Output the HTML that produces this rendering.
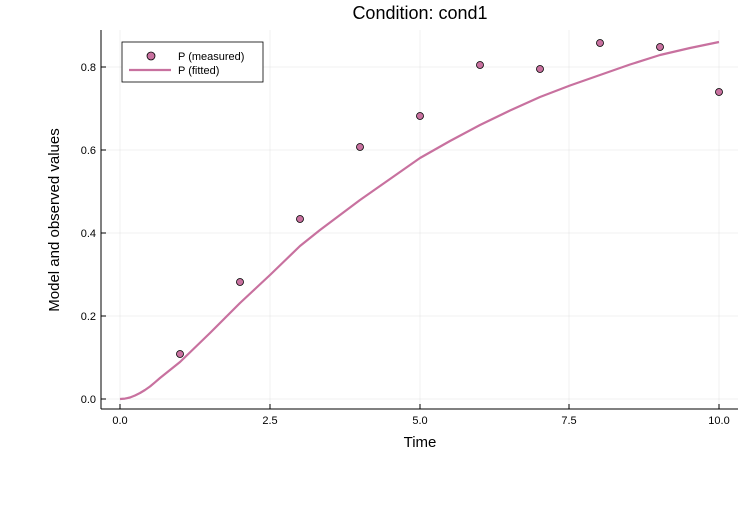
<!DOCTYPE html>
<html><head><style>body{margin:0;background:#fff}</style></head><body>
<svg width="750" height="500" xmlns="http://www.w3.org/2000/svg" font-family="Liberation Sans, DejaVu Sans, sans-serif">
<rect width="750" height="500" fill="#fff"/>
<g stroke="#000" stroke-opacity="0.05" stroke-width="1">
<line x1="120" y1="30" x2="120" y2="409"/><line x1="270" y1="30" x2="270" y2="409"/><line x1="420" y1="30" x2="420" y2="409"/><line x1="569" y1="30" x2="569" y2="409"/><line x1="719" y1="30" x2="719" y2="409"/>
<line x1="101" y1="399" x2="738" y2="399"/><line x1="101" y1="316" x2="738" y2="316"/><line x1="101" y1="233" x2="738" y2="233"/><line x1="101" y1="150" x2="738" y2="150"/><line x1="101" y1="67" x2="738" y2="67"/>
</g>
<g stroke="#000" stroke-width="1">
<line x1="101" y1="409" x2="738" y2="409"/><line x1="101" y1="30" x2="101" y2="409"/>
<line x1="120" y1="409" x2="120" y2="404"/><line x1="270" y1="409" x2="270" y2="404"/><line x1="420" y1="409" x2="420" y2="404"/><line x1="569" y1="409" x2="569" y2="404"/><line x1="719" y1="409" x2="719" y2="404"/>
<line x1="101" y1="399" x2="106" y2="399"/><line x1="101" y1="316" x2="106" y2="316"/><line x1="101" y1="233" x2="106" y2="233"/><line x1="101" y1="150" x2="106" y2="150"/><line x1="101" y1="67" x2="106" y2="67"/>
</g>
<g font-size="11" fill="#000" text-anchor="middle">
<text x="120" y="424">0.0</text><text x="270" y="424">2.5</text><text x="420" y="424">5.0</text><text x="569" y="424">7.5</text><text x="719" y="424">10.0</text>
</g>
<g font-size="11" fill="#000" text-anchor="end">
<text x="96" y="403">0.0</text><text x="96" y="320">0.2</text><text x="96" y="237">0.4</text><text x="96" y="154">0.6</text><text x="96" y="71">0.8</text>
</g>
<text x="420" y="447" font-size="15" text-anchor="middle">Time</text>
<text x="59" y="220" font-size="15" text-anchor="middle" transform="rotate(-90 59 220)">Model and observed values</text>
<text x="420" y="19" font-size="18" text-anchor="middle">Condition: cond1</text>
<polyline fill="none" stroke="#c8719f" stroke-width="2.2" stroke-linejoin="round" points="120,399 125,398.6 130,397.5 135,395.5 140,393 145,390 150,386.5 155,382.3 160,378 170,370 180,362 195,347.5 210,333 225,318 240,303 255,289 270,275 285,260.5 300,246 320,230 340,215 360,200 380,186 400,172 420,158 450,141 480,125 510,110.5 540,97 570,85.5 600,75 630,64.5 660,55 690,48 719,42"/>
<g fill="#c8719f" stroke="#000" stroke-width="0.8">
<circle cx="180" cy="354" r="3.5"/><circle cx="240" cy="282" r="3.5"/><circle cx="300" cy="219" r="3.5"/><circle cx="360" cy="147" r="3.5"/><circle cx="420" cy="116" r="3.5"/><circle cx="480" cy="65" r="3.5"/><circle cx="540" cy="69" r="3.5"/><circle cx="600" cy="43" r="3.5"/><circle cx="660" cy="47" r="3.5"/><circle cx="719" cy="92" r="3.5"/>
</g>
<rect x="122" y="42" width="141" height="40" fill="#fff" stroke="#000" stroke-width="0.8"/>
<circle cx="151" cy="56" r="4" fill="#c8719f" stroke="#000" stroke-width="0.8"/>
<line x1="129" y1="70" x2="171" y2="70" stroke="#c8719f" stroke-width="2.2"/>
<text x="178" y="60" font-size="11">P (measured)</text>
<text x="178" y="74" font-size="11">P (fitted)</text>
</svg>
</body></html>
